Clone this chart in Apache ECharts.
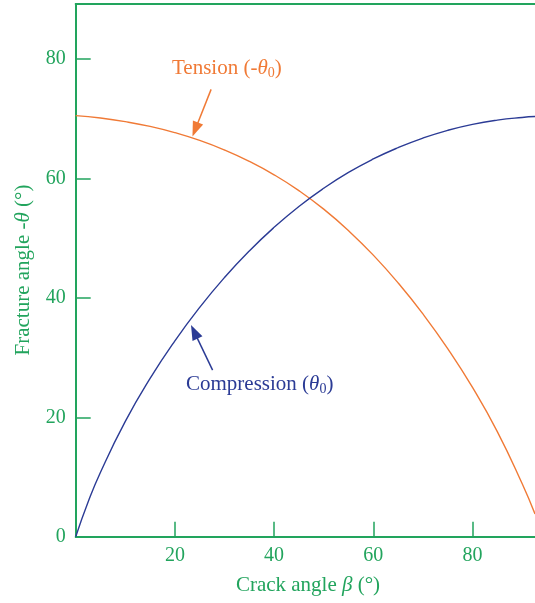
<!DOCTYPE html>
<html>
<head>
<meta charset="utf-8">
<script src="https://cdn.jsdelivr.net/npm/echarts@6/dist/echarts.min.js"></script>
<style>
  html, body { margin: 0; padding: 0; background: #ffffff; }
  #chart { width: 535px; height: 603px; }
</style>
</head>
<body>
<div id="chart"></div>
<script>
// Crack angle beta (deg) and fracture angle (deg) for the tension case (-theta0)
var tensionBeta  = [0, 5, 10, 15, 20, 25, 30, 35, 40, 45, 50, 55, 60, 65, 70, 75, 80, 85, 90, 92.6];
var tensionTheta = [70.5, 70.1, 69.5, 68.7, 67.65, 66.35, 64.75, 62.85, 60.6, 57.95, 54.85, 51.25, 47.15, 42.5, 37.3, 31.5, 25.0, 17.6, 8.9, 3.8];

// Compression case (theta0)
var compBeta  = [0, 2.5, 5, 10, 15, 20, 25, 30, 35, 40, 45, 50, 55, 60, 65, 70, 75, 80, 85, 90, 92.6];
var compTheta = [0, 5.8, 10.8, 19.3, 26.5, 32.8, 38.4, 43.4, 47.85, 51.8, 55.3, 58.35, 61.0, 63.25, 65.15, 66.75, 68.05, 69.05, 69.75, 70.2, 70.35];

// Tick labels
var xTicks = [20, 40, 60, 80];
var yTicks = [0, 20, 40, 60, 80];

var GREEN = '#22a45d';
var ORANGE = '#f07a36';
var BLUE = '#2b3b95';
var FONT = '"Liberation Serif", "DejaVu Serif", serif';

function pairs(xs, ys) {
  return xs.map(function (x, i) { return [x, ys[i]]; });
}

var chart = echarts.init(document.getElementById('chart'), null, { renderer: 'canvas' });

var axisLabelStyle = { color: GREEN, fontSize: 20, fontFamily: FONT };

function annotation(color) {
  return {
    a: { fontSize: 21, fontFamily: FONT, fill: color, lineHeight: 26 },
    i: { fontSize: 21, fontFamily: FONT, fontStyle: 'italic', fill: color, lineHeight: 26 },
    s: { fontSize: 14, fontFamily: FONT, fill: color, lineHeight: 26, padding: [9, 0, 0, 0] }
  };
}

function pointer(color, from, to) {
  return {
    silent: true, symbol: ['none', 'triangle'], symbolSize: [11, 15],
    label: { show: false },
    lineStyle: { color: color, width: 1.5, type: 'solid' },
    itemStyle: { color: color },
    data: [[{ coord: from }, { coord: to }]]
  };
}

chart.setOption({
  animation: false,
  grid: { left: 75.7, right: 0, top: 4, bottom: 66.3, containLabel: false },
  xAxis: [{
    type: 'value', min: 0, max: 92.6, interval: 20,
    axisLine: { show: true, lineStyle: { color: GREEN, width: 2 } },
    axisTick: { show: true, inside: true, length: 15, customValues: xTicks, lineStyle: { color: GREEN, width: 1.5 } },
    axisLabel: Object.assign({ margin: 9, customValues: xTicks }, axisLabelStyle),
    splitLine: { show: false }
  }, {
    // top frame line
    type: 'value', position: 'top', min: 0, max: 92.6,
    axisLine: { show: true, lineStyle: { color: GREEN, width: 2 } },
    axisTick: { show: false }, axisLabel: { show: false }, splitLine: { show: false }
  }],
  yAxis: {
    type: 'value', min: 0, max: 89.2, interval: 20,
    axisLine: { show: true, lineStyle: { color: GREEN, width: 2 } },
    axisTick: { show: true, inside: true, length: 15, customValues: yTicks, lineStyle: { color: GREEN, width: 1.5 } },
    axisLabel: Object.assign({ margin: 10, customValues: yTicks }, axisLabelStyle),
    splitLine: { show: false }
  },
  series: [{
    name: 'Tension', type: 'line', xAxisIndex: 0,
    data: pairs(tensionBeta, tensionTheta),
    smooth: 0.5, showSymbol: false, silent: true,
    lineStyle: { color: ORANGE, width: 1.4 },
    markLine: pointer(ORANGE, [27.3, 74.9], [24.1, 68.2])
  }, {
    name: 'Compression', type: 'line', xAxisIndex: 0,
    data: pairs(compBeta, compTheta),
    smooth: 0.5, showSymbol: false, silent: true,
    lineStyle: { color: BLUE, width: 1.4 },
    markLine: pointer(BLUE, [27.6, 27.9], [23.9, 34.3])
  }],
  graphic: [{
    type: 'text', left: 172, top: 57,
    style: { text: '{a|Tension (-}{i|θ}{s|0}{a|)}', rich: annotation(ORANGE) }
  }, {
    type: 'text', left: 186, top: 373,
    style: { text: '{a|Compression (}{i|θ}{s|0}{a|)}', rich: annotation(BLUE) }
  }, {
    type: 'text', x: 308, y: 585,
    style: {
      text: '{a|Crack angle }{i|β}{a| (°)}',
      align: 'center', verticalAlign: 'middle',
      rich: {
        a: { fontSize: 21, fontFamily: FONT, fill: GREEN },
        i: { fontSize: 21, fontFamily: FONT, fontStyle: 'italic', fill: GREEN }
      }
    }
  }, {
    type: 'text', x: 23, y: 270, rotation: Math.PI / 2,
    style: {
      text: '{a|Fracture angle -}{i|θ}{a| (°)}',
      align: 'center', verticalAlign: 'middle',
      rich: {
        a: { fontSize: 21, fontFamily: FONT, fill: GREEN },
        i: { fontSize: 21, fontFamily: FONT, fontStyle: 'italic', fill: GREEN }
      }
    }
  }]
});
</script>
</body>
</html>
